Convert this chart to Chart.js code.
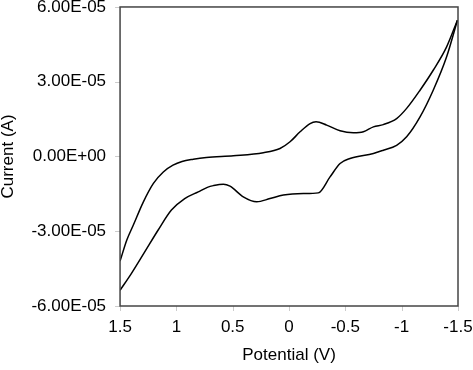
<!DOCTYPE html>
<html>
<head>
<meta charset="utf-8">
<script src="https://cdn.jsdelivr.net/npm/chart.js@4.4.1/dist/chart.umd.min.js"></script>
<style>
html,body{margin:0;padding:0;background:#fff;}
#wrap{width:473px;height:370px;}
</style>
</head>
<body>
<div id="wrap"><canvas id="cv"></canvas></div>
<script>
// forward branch (upper curve), potential in V, current in A
const fwdPotential = [1.5, 1.44, 1.382, 1.296, 1.204, 1.116, 1.03, 0.95, 0.85, 0.734, 0.494, 0.228, 0.08, -0.009, -0.098, -0.187, -0.24, -0.334, -0.453, -0.571, -0.66, -0.749, -0.837, -0.955, -1.044, -1.163, -1.28, -1.399, -1.495];
const fwdCurrent = [-4.2e-5, -3.35e-5, -2.75e-5, -1.85e-5, -1.08e-5, -0.62e-5, -0.35e-5, -0.2e-5, -0.11e-5, -0.04e-5, 0.03e-5, 0.15e-5, 0.32e-5, 0.59e-5, 0.99e-5, 1.32e-5, 1.39e-5, 1.26e-5, 1.03e-5, 0.95e-5, 0.99e-5, 1.19e-5, 1.28e-5, 1.52e-5, 1.93e-5, 2.66e-5, 3.46e-5, 4.4e-5, 5.47e-5];
// reverse branch (lower curve)
const revPotential = [-1.495, -1.399, -1.28, -1.163, -1.044, -0.955, -0.837, -0.749, -0.541, -0.453, -0.364, -0.26, -0.127, 0.05, 0.169, 0.287, 0.406, 0.524, 0.583, 0.672, 0.725, 0.806, 0.926, 1.044, 1.163, 1.281, 1.4, 1.5];
const revCurrent = [5.47e-5, 4.0e-5, 2.66e-5, 1.59e-5, 0.79e-5, 0.45e-5, 0.25e-5, 0.12e-5, -0.08e-5, -0.28e-5, -0.82e-5, -1.46e-5, -1.49e-5, -1.55e-5, -1.69e-5, -1.82e-5, -1.62e-5, -1.19e-5, -1.11e-5, -1.17e-5, -1.24e-5, -1.42e-5, -1.69e-5, -2.15e-5, -2.96e-5, -3.83e-5, -4.7e-5, -5.37e-5];

const toXY = (xs, ys) => xs.map((x, i) => ({x: x, y: ys[i]}));

function sciLabel(v){
  if (Math.abs(v) < 1e-12) return '0.00E+00';
  const parts = v.toExponential(2).split('e');
  const n = parseInt(parts[1], 10);
  return parts[0] + 'E' + (n < 0 ? '-' : '+') + String(Math.abs(n)).padStart(2, '0');
}

// box round the plot plus short outside tick marks
const frame = {
  id: 'frame',
  afterDraw(c){
    const a = c.chartArea, g = c.ctx;
    g.save();
    g.strokeStyle = '#ccc'; g.lineWidth = 1;
    g.beginPath();
    c.scales.x.ticks.forEach(t => {
      const px = Math.round(c.scales.x.getPixelForValue(t.value)) + 0.5;
      g.moveTo(px, a.bottom); g.lineTo(px, a.bottom + 5);
    });
    c.scales.y.ticks.forEach(t => {
      const py = Math.round(c.scales.y.getPixelForValue(t.value)) + 0.5;
      g.moveTo(a.left - 5, py); g.lineTo(a.left, py);
    });
    g.stroke();
    g.strokeStyle = '#444'; g.lineWidth = 1.5;
    g.strokeRect(a.left, a.top, a.right - a.left, a.bottom - a.top);
    g.restore();
  }
};

const fam = "'Liberation Sans', Arial, sans-serif";
const line = {borderColor: '#000', borderWidth: 1.5, pointRadius: 0, showLine: true, cubicInterpolationMode: 'monotone', fill: false};

new Chart(document.getElementById('cv'), {
  type: 'scatter',
  data: {datasets: [
    Object.assign({label: 'forward', data: toXY(fwdPotential, fwdCurrent)}, line),
    Object.assign({label: 'reverse', data: toXY(revPotential, revCurrent)}, line)
  ]},
  options: {
    responsive: true, maintainAspectRatio: false, animation: false,
    layout: {padding: {top: 0, right: 15, bottom: 6.5, left: 0}},
    plugins: {legend: {display: false}, tooltip: {enabled: false}},
    scales: {
      x: {
        type: 'linear', reverse: true, min: -1.5, max: 1.5,
        ticks: {stepSize: 0.5, color: '#000', font: {family: fam, size: 17, lineHeight: 1}, padding: 0,
          maxRotation: 0, callback: v => String(Math.round(v * 10) / 10)},
        grid: {drawOnChartArea: false, drawTicks: true, tickLength: 12.5, tickColor: 'rgba(0,0,0,0)'},
        border: {display: false},
        title: {display: true, text: 'Potential (V)', color: '#000', font: {family: fam, size: 17, lineHeight: 1}, padding: {top: 11, bottom: 0}}
      },
      y: {
        type: 'linear', min: -6e-5, max: 6e-5,
        ticks: {stepSize: 3e-5, color: '#000', font: {family: fam, size: 17, lineHeight: 0.82}, padding: 0, callback: v => sciLabel(v)},
        grid: {drawOnChartArea: false, drawTicks: true, tickLength: 14, tickColor: 'rgba(0,0,0,0)'},
        border: {display: false},
        title: {display: true, text: 'Current (A)', color: '#000', font: {family: fam, size: 17, lineHeight: 1}, padding: {top: 0, bottom: 14.4}}
      }
    }
  },
  plugins: [frame]
});
</script>
</body>
</html>
